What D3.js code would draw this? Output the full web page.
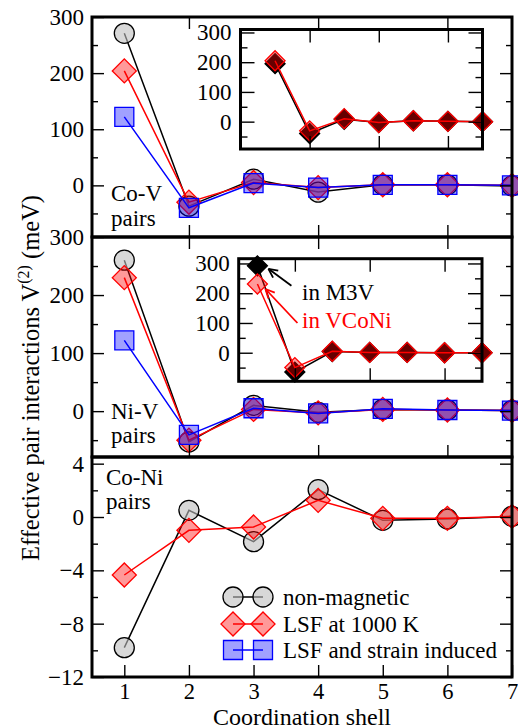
<!DOCTYPE html>
<html>
<head>
<meta charset="utf-8">
<script src="https://cdn.jsdelivr.net/npm/d3@7"></script>
</head>
<body style="margin:0">
<div id="c"></div>
<script>
// coordination shells
var shells = [1, 2, 3, 4, 5, 6, 7];

// Co-V pairs, V(2) in meV
var coV_nonmag = [271, -37, 11, -12, 1, 1, -1];
var coV_lsf    = [204, -30, 5, -4, 1, 1, 0];
var coV_strain = [122, -40, 4, -4, 1, 1, 0];

// Ni-V pairs
var niV_nonmag = [260, -53, 10, -2, 3, 2, 1];
var niV_lsf    = [230, -50, 3, -3, 3, 2, 1];
var niV_strain = [122, -41, 5, -4, 4, 2, 1];

// Co-Ni pairs
var coNi_nonmag = [-9.8, 0.5, -1.85, 2.05, -0.25, -0.15, 0.05];
var coNi_lsf    = [-4.35, -1.0, -0.75, 1.25, -0.1, -0.1, 0.05];

// insets: LSF values in M3V vs in VCoNi
var insetCoV_m3v   = [195, -40, 8, -3, 3, 1, 0];
var insetCoV_vconi = [205, -31, 10, -3, 3, 1, 0];
var insetNiV_m3v   = [292, -65, 4, 1, 1, 0, 0];
var insetNiV_vconi = [231, -50, 5, 1, 1, 0, 0];

var legendNames = ["non-magnetic", "LSF at 1000 K", "LSF and strain induced"];
var panelNames = [["Co-V", "pairs"], ["Ni-V", "pairs"], ["Co-Ni", "pairs"]];
var insetNames = ["in M3V", "in VCoNi"];

var w = 518, h = 728;
var fontFam = "Liberation Serif";

var svg = d3.select("#c")
  .append("svg")
  .attr("width", w)
  .attr("height", h);

svg.append("rect").attr("width", w).attr("height", h).attr("fill", "#fff");

// marker styles
var stNonmag = { stroke: "#000", fill: "rgba(190,190,190,0.6)", type: d3.symbolCircle, size: Math.PI * 100 };
var stLsf    = { stroke: "#f00", fill: "rgba(255,0,0,0.4)", type: d3.symbolSquare, size: 289, rot: true };
var stStrain = { stroke: "#00f", fill: "rgba(0,0,255,0.37)", type: d3.symbolSquare, size: 361 };
var stM3V    = { stroke: "#000", fill: "#000", type: d3.symbolSquare, size: 200, rot: true };
var stVCoNi  = { stroke: "#f00", fill: "rgba(255,0,0,0.4)", type: d3.symbolSquare, size: 200, rot: true };

function marker(sel, st) {
  sel.attr("d", d3.symbol().type(st.type).size(st.size))
    .attr("fill", st.fill)
    .attr("stroke", st.stroke)
    .attr("stroke-width", 1.3);
}

function drawSeries(g, x, y, vals, st) {
  var line = d3.line()
    .x(function(d, i) { return x(shells[i]); })
    .y(function(d) { return y(d); });
  g.append("path").datum(vals)
    .attr("d", line)
    .attr("fill", "none")
    .attr("stroke", st.stroke)
    .attr("stroke-width", 1.5);
  g.selectAll(null).data(vals).enter().append("path")
    .call(marker, st)
    .attr("transform", function(d, i) {
      return `translate(${x(shells[i])},${y(d)})` + (st.rot ? " rotate(45)" : "");
    });
}

function styleAxis(a, size) {
  a.attr("font-family", null).attr("font-size", null);
  a.select(".domain").remove();
  a.selectAll(".tick line").attr("stroke", "#000").attr("stroke-width", 1.4);
  a.selectAll("text")
    .attr("fill", "#000")
    .attr("font-family", fontFam)
    .attr("font-size", size || 23);
}

// frame with inner ticks on all four sides
function drawFrame(g, x, y, o) {
  var x0 = x.range()[0], x1 = x.range()[1];
  var yb = y.range()[0], yt = y.range()[1];

  g.append("g").attr("transform", `translate(${x0},0)`)
    .call(d3.axisLeft(y).tickValues(o.yMajor).tickSize(-o.major).tickPadding(o.pad).tickFormat(d3.format("d")))
    .call(styleAxis);
  g.append("g").attr("transform", `translate(${x0},0)`)
    .call(d3.axisLeft(y).tickValues(o.yMinor).tickSize(-o.minor).tickFormat(""))
    .call(styleAxis);
  g.append("g").attr("transform", `translate(${x1},0)`)
    .call(d3.axisRight(y).tickValues(o.yMajor).tickSize(-o.major).tickFormat(""))
    .call(styleAxis);
  g.append("g").attr("transform", `translate(${x1},0)`)
    .call(d3.axisRight(y).tickValues(o.yMinor).tickSize(-o.minor).tickFormat(""))
    .call(styleAxis);

  if (o.xTop) {
    g.append("g").attr("transform", `translate(0,${yt})`)
      .call(d3.axisTop(x).tickValues(o.xTop).tickSize(-o.xlen).tickFormat(""))
      .call(styleAxis);
  }
  if (o.xBottom) {
    g.append("g").attr("transform", `translate(0,${yb})`)
      .call(d3.axisBottom(x).tickValues(o.xBottom).tickSize(-o.xlen).tickPadding(6)
        .tickFormat(o.xLabels ? d3.format("d") : ""))
      .call(styleAxis, 22.5);
  }

  g.append("rect")
    .attr("x", x0).attr("y", yt)
    .attr("width", x1 - x0).attr("height", yb - yt)
    .attr("fill", "none")
    .attr("stroke", "#000")
    .attr("stroke-width", 3);
}

function label(sel, x, y, t, size, color) {
  return sel.append("text")
    .attr("x", x).attr("y", y)
    .attr("font-family", fontFam)
    .attr("font-size", size)
    .attr("fill", color || "#000")
    .text(t);
}

// layout
var left = 92, right = 512;
var tops = [17, 237, 457], panelH = 220;

var x = d3.scaleLinear().domain([0.5, 7]).range([left, right]);

var y1 = d3.scaleLinear().domain([-92, 300]).range([tops[0] + panelH, tops[0]]);
var y2 = d3.scaleLinear().domain([-79, 300]).range([tops[1] + panelH, tops[1]]);
var y3 = d3.scaleLinear().domain([-12, 4.5]).range([tops[2] + panelH, tops[2]]);

var mainOpts = { yMajor: [0, 100, 200, 300], yMinor: [-50, 50, 150, 250], major: 12, minor: 6, pad: 8,
                 xTop: [2, 4, 6], xBottom: [2, 4, 6], xlen: 12, xLabels: false };

// panel 1: Co-V
var p1 = svg.append("g");
drawSeries(p1, x, y1, coV_nonmag, stNonmag);
drawSeries(p1, x, y1, coV_lsf, stLsf);
drawSeries(p1, x, y1, coV_strain, stStrain);
drawFrame(p1, x, y1, mainOpts);

// panel 2: Ni-V
var p2 = svg.append("g");
drawSeries(p2, x, y2, niV_nonmag, stNonmag);
drawSeries(p2, x, y2, niV_lsf, stLsf);
drawSeries(p2, x, y2, niV_strain, stStrain);
drawFrame(p2, x, y2, mainOpts);

// panel 3: Co-Ni
var p3 = svg.append("g");
drawSeries(p3, x, y3, coNi_nonmag, stNonmag);
drawSeries(p3, x, y3, coNi_lsf, stLsf);
drawFrame(p3, x, y3, { yMajor: [-12, -8, -4, 0, 4], yMinor: [-10, -6, -2, 2], major: 12, minor: 6, pad: 8,
                       xTop: null, xBottom: shells, xlen: 12, xLabels: true });

// panel names
var nameY = [[201, 226], [419, 443], [485, 509]];
var nameX = [111, 111, 106];
panelNames.forEach(function(lines, i) {
  lines.forEach(function(t, j) {
    label(svg, nameX[i], nameY[i][j], t, 23);
  });
});

// insets
var insetOpts = { yMajor: [0, 100, 200, 300], yMinor: [-50, 50, 150, 250], major: 14, minor: 7, pad: 9,
                  xTop: [2, 4, 6], xBottom: [2, 4, 6], xlen: 13, xLabels: false };

var ix1 = d3.scaleLinear().domain([0, 7]).range([240.5, 482.5]);
var iy1 = d3.scaleLinear().domain([-92, 310]).range([149, 29.5]);
var in1 = svg.append("g");
in1.append("rect").attr("x", 240.5).attr("y", 29.5).attr("width", 242).attr("height", 119.5).attr("fill", "#fff");
drawSeries(in1, ix1, iy1, insetCoV_m3v, stM3V);
drawSeries(in1, ix1, iy1, insetCoV_vconi, stVCoNi);
drawFrame(in1, ix1, iy1, insetOpts);

var ix2 = d3.scaleLinear().domain([0.5, 7]).range([238.7, 482]);
var iy2 = d3.scaleLinear().domain([-96, 316]).range([381.3, 258.7]);
var in2 = svg.append("g");
in2.append("rect").attr("x", 238.7).attr("y", 258.7).attr("width", 243.3).attr("height", 122.6).attr("fill", "#fff");
drawSeries(in2, ix2, iy2, insetNiV_m3v, stM3V);
drawSeries(in2, ix2, iy2, insetNiV_vconi, stVCoNi);
drawFrame(in2, ix2, iy2, insetOpts);

// arrows pointing at the first-shell values
function arrow(g, x0, y0, x1, y1, color) {
  var ang = Math.atan2(y1 - y0, x1 - x0), len = 10, spread = 0.45;
  g.append("line").attr("x1", x0).attr("y1", y0).attr("x2", x1).attr("y2", y1)
    .attr("stroke", color).attr("stroke-width", 1.8);
  [ang + Math.PI - spread, ang + Math.PI + spread].forEach(function(a) {
    g.append("line")
      .attr("x1", x1).attr("y1", y1)
      .attr("x2", x1 + len * Math.cos(a)).attr("y2", y1 + len * Math.sin(a))
      .attr("stroke", color).attr("stroke-width", 1.8);
  });
}
var tipB = [ix2(1) + 11, iy2(insetNiV_m3v[0]) + 3];
var tipR = [ix2(1) + 8, iy2(insetNiV_vconi[0]) + 5];
arrow(in2, tipB[0] + 23, tipB[1] + 17, tipB[0], tipB[1], "#000");
arrow(in2, tipR[0] + 32, tipR[1] + 34, tipR[0], tipR[1], "#f00");

label(in2, 302, 300, insetNames[0], 23, "#000");
label(in2, 302, 328, insetNames[1], 23, "#f00");

// legend
var legendSt = [stNonmag, stLsf, stStrain];
var legendY = [597, 624, 650];
var leg = svg.append("g");
legendNames.forEach(function(name, i) {
  var st = legendSt[i];
  leg.append("line").attr("x1", 233).attr("x2", 263).attr("y1", legendY[i]).attr("y2", legendY[i])
    .attr("stroke", st.stroke).attr("stroke-width", 1.5);
  [233, 263].forEach(function(mx) {
    leg.append("path").call(marker, st)
      .attr("transform", `translate(${mx},${legendY[i]})` + (st.rot ? " rotate(45)" : ""));
  });
  label(leg, 283, legendY[i] + 8, name, 23);
});

// axis titles
label(svg, (left + right) / 2, 724.5, "Coordination shell", 24)
  .attr("text-anchor", "middle");

var yt = svg.append("text")
  .attr("transform", "translate(39,378) rotate(-90)")
  .attr("text-anchor", "middle")
  .attr("font-family", fontFam)
  .attr("font-size", 24.5);
yt.append("tspan").text("Effective pair interactions V");
yt.append("tspan").attr("dy", -10).attr("font-size", 16).text("(2)");
yt.append("tspan").attr("dy", 10).text(" (meV)");
</script>
</body>
</html>
